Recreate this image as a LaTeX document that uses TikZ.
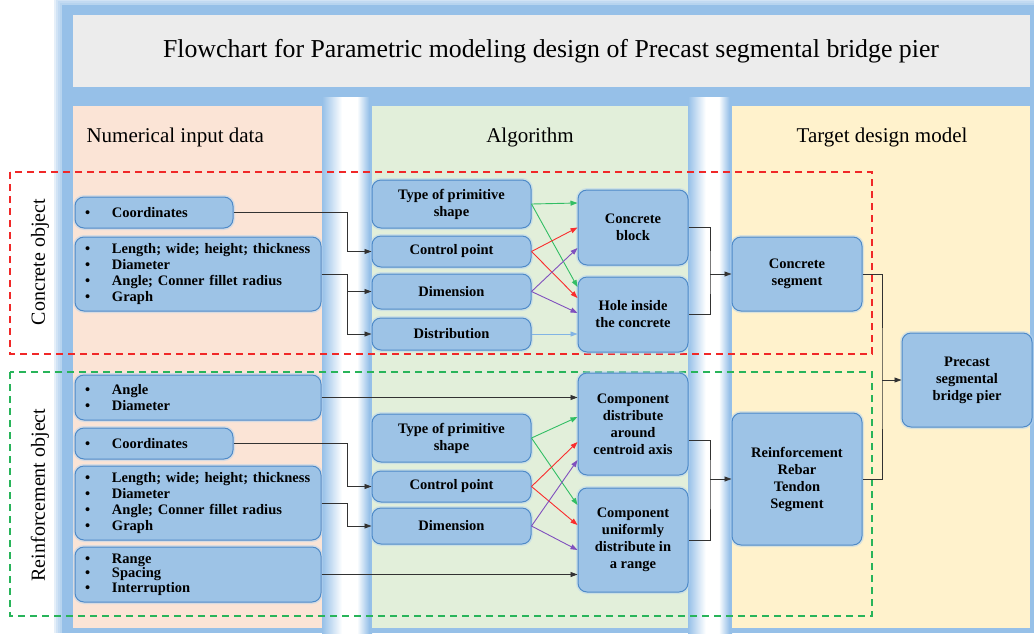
\documentclass[tikz,border=0pt]{standalone}
\usepackage{fontspec}
\setmainfont{Liberation Serif}
\usetikzlibrary{arrows.meta,calc}
\definecolor{framecol}{RGB}{150,192,232}
\definecolor{titlegray}{RGB}{236,236,236}
\definecolor{peachcol}{RGB}{251,228,214}
\definecolor{greencol}{RGB}{226,239,218}
\definecolor{yellowcol}{RGB}{255,242,204}
\definecolor{boxfill}{RGB}{157,195,230}
\definecolor{boxline}{RGB}{78,138,200}
\definecolor{linecol}{RGB}{50,50,50}
\definecolor{greenarr}{RGB}{50,190,100}
\definecolor{redarr}{RGB}{250,45,45}
\definecolor{purplearr}{RGB}{128,80,190}
\definecolor{bluearr}{RGB}{130,180,228}
\definecolor{reddash}{RGB}{240,40,40}
\definecolor{greendash}{RGB}{40,180,90}
\pgfdeclarehorizontalshading{gapshade}{100bp}{color(0bp)=(framecol); color(25bp)=(framecol);
  color(45bp)=(white); color(60bp)=(white); color(72bp)=(framecol); color(100bp)=(framecol)}
\newcommand{\itm}{\makebox[27pt][l]{\textbullet}}
\begin{document}
\begin{tikzpicture}
[x=1pt,y=-1pt,
  boxdecorate/.style={draw=boxline,fill=boxfill,rounded corners=9pt,line width=1pt,
    inner sep=0pt,align=center,font=\bfseries\fontsize{14.5}{17}\selectfont,
    preaction={draw=framecol!70,line width=4pt,opacity=0.5}},
  listdecorate/.style={boxdecorate,inner xsep=10pt,align=left,text width=#1,
    font=\bfseries\fontsize{14.5}{16}\selectfont},
  headdecorate/.style={font=\fontsize{21}{24}\selectfont},
  linedecorate/.style={line width=0.8pt,draw=linecol},
  arrowdecorate/.style={linedecorate,-{Triangle[length=7pt,width=5pt]}},
  fandecorate/.style={line width=0.9pt,-{Triangle[length=7pt,width=5pt]}}]
\useasboundingbox (0,0) rectangle (1034,633);
% frame and columns
\foreach \g in {8,6,4,2}
  \fill[framecol,opacity=0.25] (62-\g,5-\g) rectangle (1034,633);
\fill[framecol] (62,5) rectangle (1034,633);
\shade[shading=gapshade] (322,97) rectangle (372,633);
\shade[shading=gapshade] (688,97) rectangle (732,633);
\fill[titlegray] (73,15) rectangle (1030,87);
\fill[peachcol] (73,106) rectangle (322,628);
\fill[greencol] (372,106) rectangle (688,628);
\fill[yellowcol] (732,106) rectangle (1030,628);
% titles
\node (title) at (551,51) [font=\fontsize{25.8}{28}\selectfont] {Flowchart for Parametric modeling design of Precast segmental bridge pier};
\node (hin) at (83,137) [headdecorate,anchor=west] {Numerical input data};
\node (halg) at (530,137) [headdecorate] {Algorithm};
\node (htar) at (882,137) [headdecorate] {Target design model};
% object groups
\draw[reddash,line width=1.6pt,dash pattern=on 7pt off 5pt] (10,172) rectangle (872,354);
\draw[greendash,line width=1.6pt,dash pattern=on 7pt off 5pt] (10,372) rectangle (872,616);
\node (conc) at (40,262) [rotate=90,font=\fontsize{20}{22}\selectfont] {Concrete object};
\node (reinf) at (40,495) [rotate=90,font=\fontsize{20}{22}\selectfont] {Reinforcement object};
% input data
\node (l1) at (154,212.5) [listdecorate=138pt,minimum height=31pt] {\itm Coordinates};
\node (l2) at (198,274) [listdecorate=226pt,minimum height=74pt] {\itm Length; wide; height; thickness\\ \itm Diameter\\ \itm Angle; Conner fillet radius\\ \itm Graph};
\node (l3) at (198,397.5) [listdecorate=226pt,minimum height=45pt] {\itm Angle\\ \itm Diameter};
\node (l4) at (154,443.5) [listdecorate=138pt,minimum height=31pt] {\itm Coordinates};
\node (l5) at (198,503) [listdecorate=226pt,minimum height=74pt] {\itm Length; wide; height; thickness\\ \itm Diameter\\ \itm Angle; Conner fillet radius\\ \itm Graph};
\node (l6) at (198,574.5) [listdecorate=226pt,minimum height=55pt,font=\bfseries\fontsize{14.5}{14.5}\selectfont] {\itm Range\\ \itm Spacing\\ \itm Interruption};
% algorithm
\node (a1) at (451.5,204) [boxdecorate,minimum width=159pt,minimum height=48pt] {Type of primitive\\ shape};
\node (a2) at (451.5,251.5) [boxdecorate,minimum width=159pt,minimum height=31pt] {Control point};
\node (a3) at (451.5,291.5) [boxdecorate,minimum width=159pt,minimum height=35pt] {Dimension};
\node (a4) at (451.5,334) [boxdecorate,minimum width=159pt,minimum height=32pt] {Distribution};
\node (b1) at (451.5,438) [boxdecorate,minimum width=159pt,minimum height=48pt] {Type of primitive\\ shape};
\node (b2) at (451.5,486.5) [boxdecorate,minimum width=159pt,minimum height=31pt] {Control point};
\node (b3) at (451.5,526) [boxdecorate,minimum width=159pt,minimum height=36pt] {Dimension};
\node (c1) at (633,227.5) [boxdecorate,minimum width=110pt,minimum height=75pt] {Concrete\\ block};
\node (c2) at (633,314.5) [boxdecorate,minimum width=110pt,minimum height=75pt] {Hole inside\\ the concrete};
\node (d1) at (633,424) [boxdecorate,minimum width=110pt,minimum height=102pt] {Component\\ distribute\\ around\\ centroid axis};
\node (d2) at (633,540) [boxdecorate,minimum width=110pt,minimum height=104pt] {Component\\ uniformly\\ distribute in\\ a range};
% target model
\node (t1) at (797,274) [boxdecorate,minimum width=130pt,minimum height=74pt] {Concrete\\ segment};
\node (t2) at (797,479) [boxdecorate,minimum width=130pt,minimum height=132pt] {Reinforcement\\ Rebar\\ Tendon\\ Segment};
\node (p) at (967,380) [boxdecorate,minimum width=130pt,minimum height=94pt] {Precast\\ segmental\\ bridge pier};
% input to algorithm
\draw[arrowdecorate] (l1.east) -- ++(114,0) |- (a2.west);
\draw[arrowdecorate] (l2.east) -- ++(26,0) coordinate (s2) |- (a3.west);
\draw[arrowdecorate] (s2) |- (a4.west);
\draw[arrowdecorate] (l3.east) -- (l3.east -| d1.west);
\draw[arrowdecorate] (l4.east) -- ++(114,0) |- (b2.west);
\draw[arrowdecorate] (l5.east) -- ++(26,0) |- (b3.west);
\draw[arrowdecorate] (l6.east) -- (l6.east -| d2.west);
% algorithm fans
\draw[fandecorate,greenarr] (a1.east) -- ([yshift=24.5pt]c1.west);
\draw[fandecorate,greenarr] (a1.east) -- ([yshift=27.5pt]c2.west);
\draw[fandecorate,redarr] (a2.east) -- ([yshift=0pt]c1.west);
\draw[fandecorate,redarr] (a2.east) -- ([yshift=16.5pt]c2.west);
\draw[fandecorate,purplearr] (a3.east) -- ([yshift=-20.5pt]c1.west);
\draw[fandecorate,purplearr] (a3.east) -- ([yshift=1.5pt]c2.west);
\draw[fandecorate,bluearr] (a4.east) -- (a4.east -| c2.west);
\draw[fandecorate,greenarr] (b1.east) -- ([yshift=7pt]d1.west);
\draw[fandecorate,greenarr] (b1.east) -- ([yshift=35pt]d2.west);
\draw[fandecorate,redarr] (b2.east) -- ([yshift=-18pt]d1.west);
\draw[fandecorate,redarr] (b2.east) -- ([yshift=15pt]d2.west);
\draw[fandecorate,purplearr] (b3.east) -- ([yshift=-36pt]d1.west);
\draw[fandecorate,purplearr] (b3.east) -- ([yshift=-10pt]d2.west);
% joins to target
\coordinate (j1) at (710,274);
\coordinate (j2) at (710,479);
\coordinate (j3) at (882,380);
\draw[linedecorate] (c1.east) -| (j1) |- (c2.east);
\draw[arrowdecorate] (j1) -- (t1.west);
\draw[linedecorate] ([yshift=-16pt]d1.east) -| (j2) |- (d2.east);
\draw[arrowdecorate] (j2) -- (t2.west);
\draw[linedecorate] (t1.east) -| (j3) |- (t2.east);
\draw[arrowdecorate] (j3) -- (p.west);
\end{tikzpicture}
\end{document}
